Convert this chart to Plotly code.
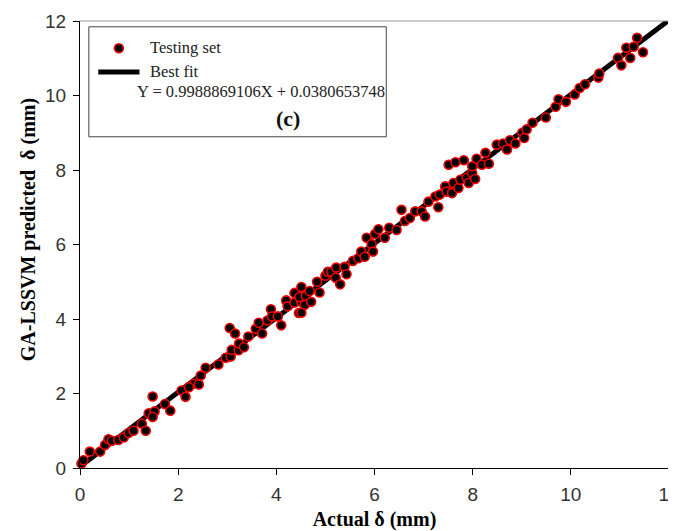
import plotly.graph_objects as go

# testing set points (actual, predicted)
actual = [0.03, 0.07, 0.20, 0.41, 0.51, 0.58, 0.65, 0.78, 0.89, 0.99, 1.09, 1.26, 1.34, 1.40, 1.48, 1.52, 1.48,
          1.73, 1.84, 2.07, 2.15, 2.32,
          2.22, 2.42, 2.46, 2.56, 2.82, 2.97, 3.07, 3.09, 3.23, 3.24, 3.34, 3.05, 3.16, 3.43, 3.58, 3.64, 3.71,
          3.82, 3.89, 3.91, 4.03, 4.10, 4.20, 4.23, 4.37, 4.37, 4.46, 4.51,
          4.51, 4.47, 4.51, 4.60, 4.58, 4.68, 4.71, 4.83, 4.88, 5.00, 5.05, 5.12, 5.22, 5.21, 5.30, 5.39, 5.43,
          5.56, 5.67, 5.73, 5.80, 5.84, 5.94, 5.97, 6.01, 6.08, 6.21, 6.30, 6.45, 6.55, 6.62, 6.72,
          6.83, 6.96, 7.03, 7.10, 7.24, 7.30, 7.33, 7.44, 7.47, 7.58, 7.61, 7.71, 7.75, 7.88, 7.92, 7.99, 8.05,
          7.51, 7.65, 7.82, 7.99, 8.08, 8.19, 8.26, 8.33,
          8.49, 8.62, 8.70, 8.76, 8.87, 9.01, 9.05, 9.10, 9.22, 9.49, 9.69, 9.75, 9.90, 10.08, 10.18, 10.29,
          10.56, 10.58, 10.96, 11.03, 11.13, 11.21, 11.28, 11.35, 11.47]
predicted = [0.12, 0.21, 0.44, 0.44, 0.62, 0.77, 0.73, 0.75, 0.82, 0.94, 1.00, 1.19, 1.00, 1.47, 1.92, 1.52, 1.37,
             1.72, 1.54, 2.08, 1.91, 2.26,
             2.17, 2.24, 2.48, 2.69, 2.78, 2.96, 2.99, 3.17, 3.16, 3.34, 3.24, 3.76, 3.61, 3.53, 3.74, 3.90, 3.61,
             3.96, 4.26, 4.07, 4.07, 3.83, 4.50, 4.34, 4.70, 4.44, 4.16, 4.46,
             4.86, 4.59, 4.17, 4.62, 4.38, 4.75, 4.46, 5.00, 4.71, 5.16, 5.27, 5.27, 5.38, 5.11, 4.93, 5.40, 5.20,
             5.56, 5.63, 5.81, 5.67, 6.18, 6.01, 5.81, 6.28, 6.41, 6.18, 6.45, 6.39, 6.93, 6.63, 6.71,
             6.89, 6.89, 6.75, 7.15, 7.29, 7.00, 7.34, 7.56, 7.42, 7.38, 7.65, 7.52, 7.74, 7.79, 7.65, 7.92, 7.76,
             8.14, 8.21, 8.26, 8.10, 8.30, 8.14, 8.46, 8.17,
             8.68, 8.71, 8.55, 8.80, 8.71, 9.00, 8.86, 9.09, 9.27, 9.41, 9.70, 9.90, 9.83, 10.03, 10.20, 10.30,
             10.48, 10.59, 11.01, 10.81, 11.28, 11.01, 11.31, 11.55, 11.16]

# best fit line
slope = 0.9988869106
intercept = 0.0380653748
fit_x = [0, 12]
fit_y = [slope * v + intercept for v in fit_x]

tick_vals = [0, 2, 4, 6, 8, 10, 12]

fig = go.Figure()
fig.add_trace(go.Scatter(x=fit_x, y=fit_y, mode="lines", name="Best fit",
                         line=dict(color="black", width=5)))
fig.add_trace(go.Scatter(x=actual, y=predicted, mode="markers", name="Testing set",
                         cliponaxis=False,
                         marker=dict(color="black", size=9, line=dict(color="#ee0000", width=1.6))))

serif = "Liberation Serif"

axis_common = dict(range=[0, 12], tickvals=tick_vals, showgrid=False, zeroline=False,
                   ticks="outside", ticklen=6, tickcolor="black", showline=True,
                   linecolor="black", linewidth=1, automargin=False, ticklabelstandoff=3,
                   ticklabeloverflow="allow",
                   tickfont=dict(family="Liberation Sans", size=19, color="#333"))

# the page body adds an 8px offset, so the figure is sized to the rest of the window
fig.update_layout(
    width=668, height=523,
    margin=dict(l=72, r=7, t=13, b=63),
    paper_bgcolor="white", plot_bgcolor="white",
    showlegend=False,
    xaxis=dict(**axis_common,
               title=dict(text="<b>Actual δ (mm)</b>", standoff=16,
                          font=dict(family=serif, size=20, color="black"))),
    yaxis=dict(**axis_common),
)

# y title sits a little above the middle, as in the original
fig.add_annotation(text="<b>GA-LSSVM predicted  δ (mm)</b>", xref="paper", yref="paper",
                   x=0, y=0.532, xshift=-52, xanchor="center", yanchor="middle",
                   textangle=-90, showarrow=False,
                   font=dict(family=serif, size=20, color="black"))

# gray frame on top and right
fig.add_shape(type="line", xref="paper", yref="paper", x0=0, x1=1, y0=1, y1=1,
              line=dict(color="#999", width=1))
fig.add_shape(type="line", xref="paper", yref="paper", x0=1, x1=1, y0=0, y1=1,
              line=dict(color="#999", width=1))

# legend box drawn by hand
fig.add_shape(type="rect", xref="paper", yref="paper", x0=0.015, x1=0.52, y0=0.741, y1=0.987,
              line=dict(color="#444", width=1), fillcolor="white")
fig.add_shape(type="circle", xref="paper", yref="paper", xsizemode="pixel", ysizemode="pixel",
              xanchor=0.066, yanchor=0.939, x0=-4.5, x1=4.5, y0=-4.5, y1=4.5,
              fillcolor="black", line=dict(color="#ee0000", width=1.6))
fig.add_shape(type="line", xref="paper", yref="paper", x0=0.031, x1=0.101, y0=0.886, y1=0.886,
              line=dict(color="black", width=5))

leg_font = dict(family=serif, size=16.5, color="#222")
fig.add_annotation(text="Testing set", xref="paper", yref="paper", x=0.115, y=0.940,
                   xanchor="left", yanchor="middle", showarrow=False, font=leg_font)
fig.add_annotation(text="Best fit", xref="paper", yref="paper", x=0.115, y=0.886,
                   xanchor="left", yanchor="middle", showarrow=False, font=leg_font)
fig.add_annotation(text=f"Y = {slope}X + {intercept}", xref="paper", yref="paper", x=0.0926, y=0.842,
                   xanchor="left", yanchor="middle", showarrow=False, font=leg_font)
fig.add_annotation(text="<b>(c)</b>", xref="paper", yref="paper", x=0.3526, y=0.782,
                   xanchor="center", yanchor="middle", showarrow=False,
                   font=dict(family=serif, size=22, color="#111"))

fig.write_html("out.html")
